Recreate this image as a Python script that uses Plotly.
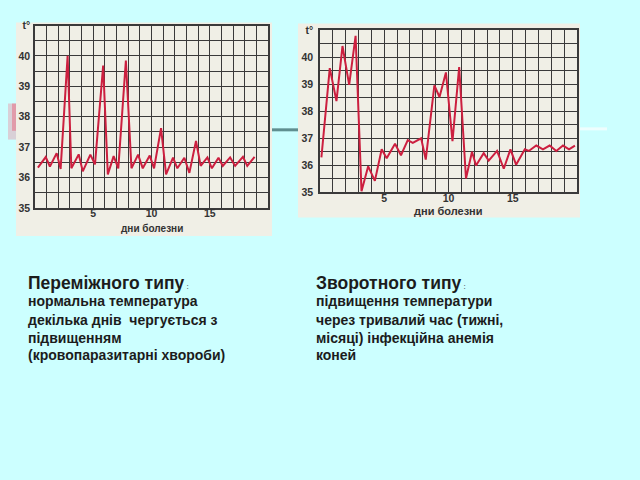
import plotly.graph_objects as go

W, H = 640, 480

# ---- data ----
days1 = [0.25, 0.92, 1.28, 1.86, 2.2, 2.8, 3.12, 3.75, 4.1, 4.75, 5.15, 5.85, 6.25, 6.75,
         7.15, 7.8, 8.28, 8.85, 9.25, 9.85, 10.22, 10.82, 11.25, 11.85, 12.22, 12.82,
         13.25, 13.82, 14.22, 14.8, 15.18, 15.75, 16.12, 16.75, 17.18, 17.85, 18.22, 18.85]
temp1 = [36.32, 36.67, 36.36, 36.8, 36.28, 40.0, 36.3, 36.76, 36.2, 36.75, 36.43, 39.68,
         36.1, 36.7, 36.3, 39.85, 36.3, 36.75, 36.3, 36.72, 36.3, 37.62, 36.1, 36.65,
         36.3, 36.65, 36.15, 37.2, 36.38, 36.66, 36.3, 36.65, 36.38, 36.66, 36.38, 36.68,
         36.38, 36.68]

days2 = [0.11, 0.76, 1.28, 1.75, 2.27, 2.77, 3.23, 3.75, 4.27, 4.8, 5.19, 5.84, 6.3, 6.83,
         7.22, 7.87, 8.23, 8.9, 9.3, 9.8, 10.31, 10.83, 11.36, 11.83, 12.14, 12.74, 13.13,
         13.78, 14.3, 14.82, 15.26, 15.94, 16.25, 16.83, 17.35, 17.87, 18.39, 18.91, 19.38,
         19.84]
temp2 = [36.29, 39.6, 38.38, 40.42, 38.98, 40.8, 35.04, 35.96, 35.42, 36.59, 36.26, 36.8,
         36.37, 36.93, 36.83, 37.0, 36.21, 38.96, 38.53, 39.44, 36.89, 39.64, 35.51, 36.5,
         35.99, 36.45, 36.17, 36.53, 35.87, 36.59, 36.02, 36.59, 36.53, 36.73, 36.59, 36.73,
         36.53, 36.73, 36.59, 36.73]

x_grid = list(range(0, 21))
x_labels = ["5", "10", "15"]
y_grid = [35, 35.5, 36, 36.5, 37, 37.5, 38, 38.5, 39, 39.5, 40, 40.5, 41]
y_labels = ["35", "36", "37", "38", "39", "40"]
x_title = "дни болезни"

left_title = "Переміжного типу"
left_lines = ["нормальна температура", "декілька днів  чергується з",
              "підвищенням", "(кровопаразитарні хвороби)"]
right_title = "Зворотного типу"
right_lines = ["підвищення температури", "через тривалий час (тижні,",
               "місяці) інфекційна анемія", "коней"]

# ---- style ----
BG = "#ccffff"
PANEL = "#f0efe6"
GRID = "#3a3a3a"
RED = "#cc1f3f"
TXT = "#1c1c1c"
FONT = "Liberation Sans, Arial, sans-serif"


def px(x):
    return x / W


def py(y):
    return 1 - y / H


def xtext():
    return [str(v) if str(v) in x_labels else "" for v in x_grid]


def ytext():
    out = []
    for v in y_grid:
        if v == 41:
            out.append("t°")
        elif float(v).is_integer() and str(int(v)) in y_labels:
            out.append(str(int(v)))
        else:
            out.append("")
    return out


fig = go.Figure()
fig.add_trace(go.Scatter(x=days1, y=temp1, mode="lines", line=dict(color=RED, width=2),
                         xaxis="x", yaxis="y", showlegend=False, hoverinfo="skip"))
fig.add_trace(go.Scatter(x=days2, y=temp2, mode="lines", line=dict(color=RED, width=2),
                         xaxis="x2", yaxis="y2", showlegend=False, hoverinfo="skip"))

axis_common = dict(showgrid=True, gridcolor=GRID, gridwidth=1.3, zeroline=False,
                   showline=True, mirror=True, linecolor=GRID, linewidth=1.5,
                   ticks="", fixedrange=True)
tf = dict(size=10.5, color="#333", family=FONT, weight="bold")

fig.update_layout(
    width=W, height=H, margin=dict(l=0, r=0, t=0, b=0),
    paper_bgcolor=BG, plot_bgcolor=PANEL,
    font=dict(family=FONT, color=TXT),
    xaxis=dict(domain=[px(35), px(268)], range=[0, 20], anchor="y",
               tickmode="array", tickvals=x_grid, ticktext=xtext(),
               tickfont=tf, ticklabelstandoff=-5, **axis_common),
    yaxis=dict(domain=[py(207), py(20)], range=[35, 41], anchor="x",
               tickmode="array", tickvals=y_grid, ticktext=ytext(),
               tickfont=tf, ticklabelstandoff=1, **axis_common),
    xaxis2=dict(domain=[px(320), px(577)], range=[0, 20], anchor="y2",
                tickmode="array", tickvals=x_grid, ticktext=xtext(),
                tickfont=tf, ticklabelstandoff=-5, **axis_common),
    yaxis2=dict(domain=[py(191), py(25)], range=[35, 41], anchor="x2",
                tickmode="array", tickvals=y_grid, ticktext=ytext(),
                tickfont=tf, ticklabelstandoff=3, **axis_common),
)

shapes = []
# slide decorations
shapes.append(dict(type="rect", xref="paper", yref="paper", x0=px(8), x1=px(17),
                   y0=py(137), y1=py(100), fillcolor="rgba(240,120,140,0.35)",
                   line=dict(width=0), layer="below"))
shapes.append(dict(type="rect", xref="paper", yref="paper", x0=px(12), x1=px(17),
                   y0=py(128), y1=py(100), fillcolor="rgba(235,90,115,0.45)",
                   line=dict(width=0), layer="below"))
shapes.append(dict(type="line", xref="paper", yref="paper", x0=px(271), x1=px(300),
                   y0=py(127), y1=py(127), line=dict(color="#5f8f90", width=3),
                   layer="below"))
shapes.append(dict(type="line", xref="paper", yref="paper", x0=px(578), x1=px(607),
                   y0=py(126), y1=py(126), line=dict(color="#eefefe", width=3),
                   layer="below"))
# panels
shapes.append(dict(type="rect", xref="paper", yref="paper", x0=px(16), x1=px(272),
                   y0=py(236), y1=py(17), fillcolor=PANEL, line=dict(width=0),
                   layer="below"))
shapes.append(dict(type="rect", xref="paper", yref="paper", x0=px(298), x1=px(580),
                   y0=py(217), y1=py(18), fillcolor=PANEL, line=dict(width=0),
                   layer="below"))
fig.update_layout(shapes=shapes)

ann = []
ann.append(dict(text="<b>" + x_title + "</b>", x=px(152), y=py(228), xref="paper",
                yref="paper", showarrow=False, xanchor="center", yanchor="middle",
                font=dict(size=10, color="#333", family=FONT)))
ann.append(dict(text="<b>" + x_title + "</b>", x=px(448), y=py(210), xref="paper",
                yref="paper", showarrow=False, xanchor="center", yanchor="middle",
                font=dict(size=11, color="#333", family=FONT)))

row_y = [303, 322, 340, 358]
for title, lines, x0 in [(left_title, left_lines, 26), (right_title, right_lines, 314)]:
    ann.append(dict(text="<b>" + title + "</b><span style='font-size:8px'> :</span>",
                    x=px(x0), y=py(284), xref="paper", yref="paper", showarrow=False,
                    xanchor="left", yanchor="middle",
                    font=dict(size=17.5, color=TXT, family=FONT)))
    for ln, yy in zip(lines, row_y):
        ann.append(dict(text="<b>" + ln + "</b>", x=px(x0), y=py(yy), xref="paper",
                        yref="paper", showarrow=False, xanchor="left", yanchor="middle",
                        font=dict(size=14, color=TXT, family=FONT)))
fig.update_layout(annotations=ann)

fig.write_html("out.html")
